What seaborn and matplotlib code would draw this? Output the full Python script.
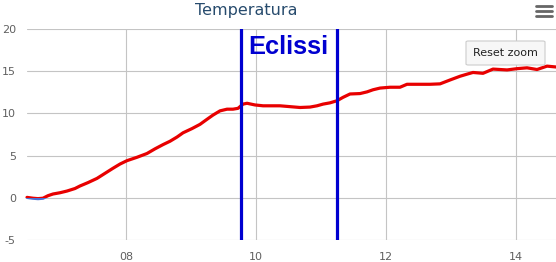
import matplotlib
matplotlib.use("Agg")
import matplotlib.pyplot as plt
import seaborn as sns
import pandas as pd
from matplotlib.patches import Rectangle, FancyBboxPatch
from matplotlib.lines import Line2D

# ---- data (hours as decimal, temperature °C) ----
hours = [6.477, 6.569, 6.646, 6.723, 6.800, 6.877, 6.985, 7.092, 7.215, 7.292,
         7.415, 7.554, 7.677, 7.800, 7.908, 8.015, 8.169, 8.323, 8.446, 8.569,
         8.677, 8.785, 8.877, 9.015, 9.138, 9.246, 9.338, 9.446, 9.554, 9.646,
         9.723, 9.800, 9.862, 9.985, 10.108, 10.246, 10.369, 10.523, 10.677, 10.831,
         10.938, 11.031, 11.138, 11.246, 11.338, 11.446, 11.600, 11.708, 11.800, 11.908,
         12.062, 12.215, 12.323, 12.523, 12.677, 12.831, 12.985, 13.138, 13.246, 13.338,
         13.492, 13.646, 13.754, 13.862, 14.015, 14.169, 14.323, 14.477, 14.615]
temps = [0.05, -0.05, -0.1, -0.05, 0.25, 0.45, 0.6, 0.8, 1.1, 1.4,
         1.8, 2.3, 2.9, 3.5, 4.0, 4.4, 4.8, 5.25, 5.8, 6.3,
         6.7, 7.2, 7.7, 8.2, 8.7, 9.3, 9.8, 10.3, 10.5, 10.5,
         10.6, 11.1, 11.2, 11.0, 10.9, 10.9, 10.9, 10.8, 10.7, 10.75,
         10.9, 11.1, 11.25, 11.5, 11.9, 12.3, 12.35, 12.55, 12.8, 13.0,
         13.1, 13.1, 13.45, 13.45, 13.45, 13.5, 13.96, 14.4, 14.65, 14.85,
         14.75, 15.25, 15.2, 15.15, 15.3, 15.4, 15.2, 15.6, 15.5]
eclipse_hours = [9.769, 11.246]
eclipse_label = "Eclissi"
x_ticks = [8, 10, 12, 14]
x_tick_labels = ["08", "10", "12", "14"]
y_ticks = [-5, 0, 5, 10, 15, 20]
title = "Temperatura"

df = pd.DataFrame({"ora": hours, "temp": temps})

W, H = 556, 262
sns.set_style("white")
plt.rcParams["font.family"] = ["DejaVu Sans"]
plt.rcParams["axes.unicode_minus"] = False
fig = plt.figure(figsize=(W / 100, H / 100), dpi=100)

ax = fig.add_axes([27 / W, 1 - 240 / H, 1 - 27 / W, (240 - 29) / H])
xmin, xmax = 6.477, 14.615
ax.set_xlim(xmin, xmax)
ax.set_ylim(-5, 20)

# grid
for y in y_ticks:
    ax.axhline(y, color="#c4c4c4", lw=0.8, zorder=0)
for x in x_ticks:
    ax.axvline(x, color="#c4c4c4", lw=0.8, zorder=0)

# red above zero, blue below zero
sns.lineplot(data=df, x="ora", y="temp", ax=ax, color="#e80000", lw=2.3, zorder=3)
red = ax.lines[-1]
red.set_clip_path(Rectangle((xmin - 1, 0), 20, 50, transform=ax.transData))
sns.lineplot(data=df, x="ora", y="temp", ax=ax, color="#4a6fd4", lw=2.3, zorder=3)
blue = ax.lines[-1]
blue.set_clip_path(Rectangle((xmin - 1, -50), 20, 50, transform=ax.transData))

for xe in eclipse_hours:
    ax.axvline(xe, color="#0000d0", lw=2.3, zorder=4)

ax.text(9.875, 17.85, eclipse_label, color="#0000d0", fontsize=18.3, fontweight="bold",
        family=["Liberation Sans", "DejaVu Sans"], ha="left", va="center", zorder=5)

for s in ax.spines.values():
    s.set_visible(False)
ax.set_xticks(x_ticks)
ax.set_xticklabels(x_tick_labels)
ax.set_yticks(y_ticks)
ax.tick_params(axis="both", length=0, labelsize=8, labelcolor="#606060")
ax.tick_params(axis="x", pad=9)
ax.tick_params(axis="y", pad=8)
ax.set_xlabel("")
ax.set_ylabel("")

# title
fig.text(246 / W, 1 - 11 / H, title, ha="center", va="center", fontsize=11.5,
         color="#274b6d")

# reset zoom button
btn = FancyBboxPatch((466 / W, 1 - 65 / H), 79 / W, 24 / H,
                     boxstyle="round,pad=0,rounding_size=0.004",
                     transform=fig.transFigure, facecolor="#f7f7f7",
                     edgecolor="#cccccc", lw=0.8, zorder=10)
fig.patches.append(btn)
fig.text(505.5 / W, 1 - 53 / H, "Reset zoom", ha="center", va="center",
         fontsize=8, color="#222222", zorder=11)

# hamburger menu
for yy in [5.5, 10.5, 15.5]:
    fig.add_artist(Line2D([536 / W, 552 / W], [1 - yy / H, 1 - yy / H],
                          transform=fig.transFigure, color="#666666", lw=2.0))

fig.savefig("out.png", dpi=100)
